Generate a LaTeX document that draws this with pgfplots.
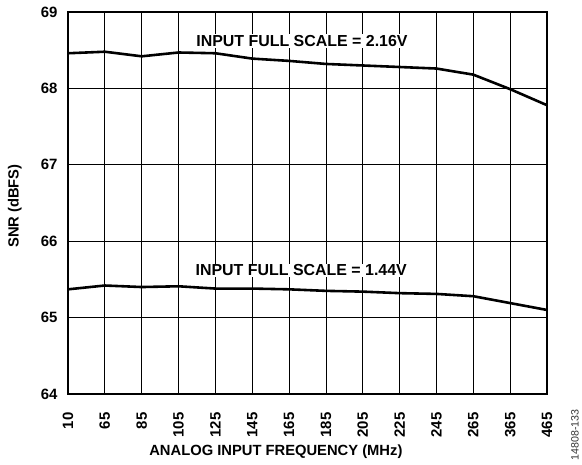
\documentclass[border=0pt]{standalone}
\usepackage{pgfplots}
\pgfplotsset{compat=1.18}
\usepackage{fontspec}
\setmainfont{Liberation Sans}
\pgfplotstableread{
x y
0 68.46
1 68.48
2 68.42
3 68.47
4 68.46
5 68.39
6 68.36
7 68.32
8 68.30
9 68.28
10 68.26
11 68.18
12 67.99
13 67.78
}\snrhigh
\pgfplotstableread{
x y
0 65.37
1 65.42
2 65.40
3 65.41
4 65.38
5 65.38
6 65.37
7 65.35
8 65.34
9 65.32
10 65.31
11 65.28
12 65.19
13 65.10
}\snrlow
\begin{document}
\begin{tikzpicture}
\begin{axis}[
  scale only axis, width=479bp, height=382bp,
  xmin=0, xmax=13, ymin=64, ymax=69,
  xtick={0,...,13},
  xticklabels={10,65,85,105,125,145,165,185,205,225,245,265,365,465},
  ytick={64,...,69},
  grid=major,
  major grid style={black, line width=0.8pt},
  axis line style={line width=1.4pt},
  tick style={draw=none},
  /pgf/number format/assume math mode=true,
  ticklabel style={font=\fontsize{15}{17}\selectfont\bfseries},
  x tick label style={rotate=90, anchor=east, xshift=-15bp},
  y tick label style={xshift=-7bp},
  label style={font=\fontsize{14.8}{17}\selectfont\bfseries},
  xlabel={ANALOG INPUT FREQUENCY (MHz)},
  ylabel={SNR (dBFS)},
  xlabel style={at={(axis description cs:0.434,-0.152)}, anchor=center},
  ylabel style={at={(axis description cs:-0.111,0.492)}, anchor=center},
]
\addplot[black, line width=2.6pt, line join=round] table[x=x,y=y] {\snrhigh};
\addplot[black, line width=2.6pt, line join=round] table[x=x,y=y] {\snrlow};
\node[fill=white, inner sep=1pt, font=\fontsize{16}{18}\selectfont\bfseries] at (axis cs:6.35,68.62) {INPUT FULL SCALE = 2.16V};
\node[fill=white, inner sep=1pt, font=\fontsize{16}{18}\selectfont\bfseries] at (axis cs:6.33,65.62) {INPUT FULL SCALE = 1.44V};
\coordinate (SW) at (rel axis cs:0,0);
\coordinate (NE) at (rel axis cs:1,1);
\end{axis}
\node[rotate=90, font=\fontsize{10.7}{12}\selectfont, text=black!80] at ([shift={(28bp,-41bp)}]SW -| NE) {14808-133};
\pgfresetboundingbox
\path ([shift={(-68bp,-71bp)}]SW) rectangle ([shift={(35bp,12bp)}]NE);
\end{tikzpicture}
\end{document}
